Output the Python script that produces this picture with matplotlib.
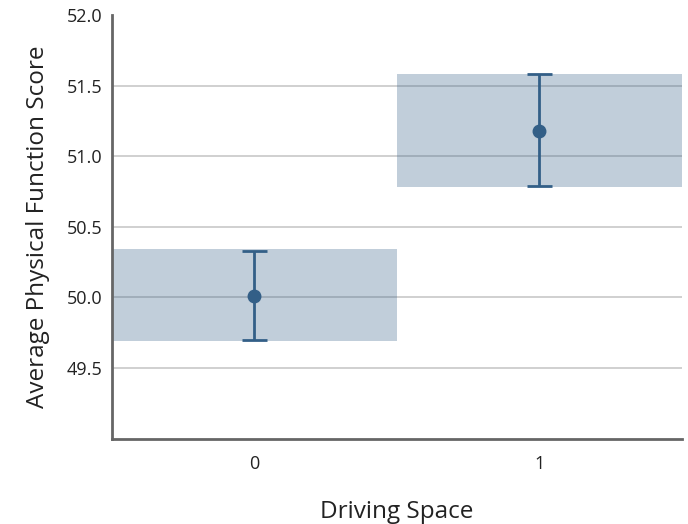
import matplotlib
matplotlib.use("Agg")
import matplotlib.pyplot as plt

# data
categories = ["0", "1"]
means = [50.01, 51.18]
ci_low = [49.70, 50.79]
ci_high = [50.33, 51.58]
band_low = [49.69, 50.78]
band_high = [50.34, 51.58]

plt.rcParams["font.family"] = ["Open Sans", "DejaVu Sans"]

line_color = "#335f87"

fig = plt.figure(figsize=(6.88, 5.24), dpi=100)
ax = fig.add_axes([0.1628, 0.1628, 0.8278, 0.8086])

xs = list(range(len(categories)))
for x, lo, hi in zip(xs, band_low, band_high):
    ax.fill_between([x - 0.5, x + 0.5], lo, hi, color=line_color, alpha=0.3,
                    linewidth=0, zorder=2)

yerr = [[m - lo for m, lo in zip(means, ci_low)],
        [hi - m for m, hi in zip(means, ci_high)]]
ax.errorbar(xs, means, yerr=yerr, fmt="o", color=line_color, markersize=9,
            elinewidth=2, capsize=9, capthick=2, zorder=3)

ax.set_xlim(-0.5, 1.5)
ax.set_ylim(49.0, 52.0)
ax.set_xticks(xs)
ax.set_xticklabels(categories)
ax.set_yticks([49.5, 50.0, 50.5, 51.0, 51.5, 52.0])
ax.set_yticklabels(["49.5", "50.0", "50.5", "51.0", "51.5", "52.0"])
ax.yaxis.grid(True, color="#c8c8c8", linewidth=1.2, zorder=1)
ax.get_ygridlines()[-1].set_visible(False)
ax.set_axisbelow(True)
ax.tick_params(length=0, labelsize=13, colors="#222222")
ax.tick_params(axis="y", pad=7)
ax.tick_params(axis="x", pad=12)

for side in ["top", "right"]:
    ax.spines[side].set_visible(False)
for side in ["left", "bottom"]:
    ax.spines[side].set_color("#666666")
    ax.spines[side].set_linewidth(2)

ax.set_xlabel("Driving Space", fontsize=17.5, color="#222222", labelpad=19)
ax.set_ylabel("Average Physical Function Score", fontsize=17.5, color="#222222",
              labelpad=12)

plt.savefig("out.png", dpi=100)
